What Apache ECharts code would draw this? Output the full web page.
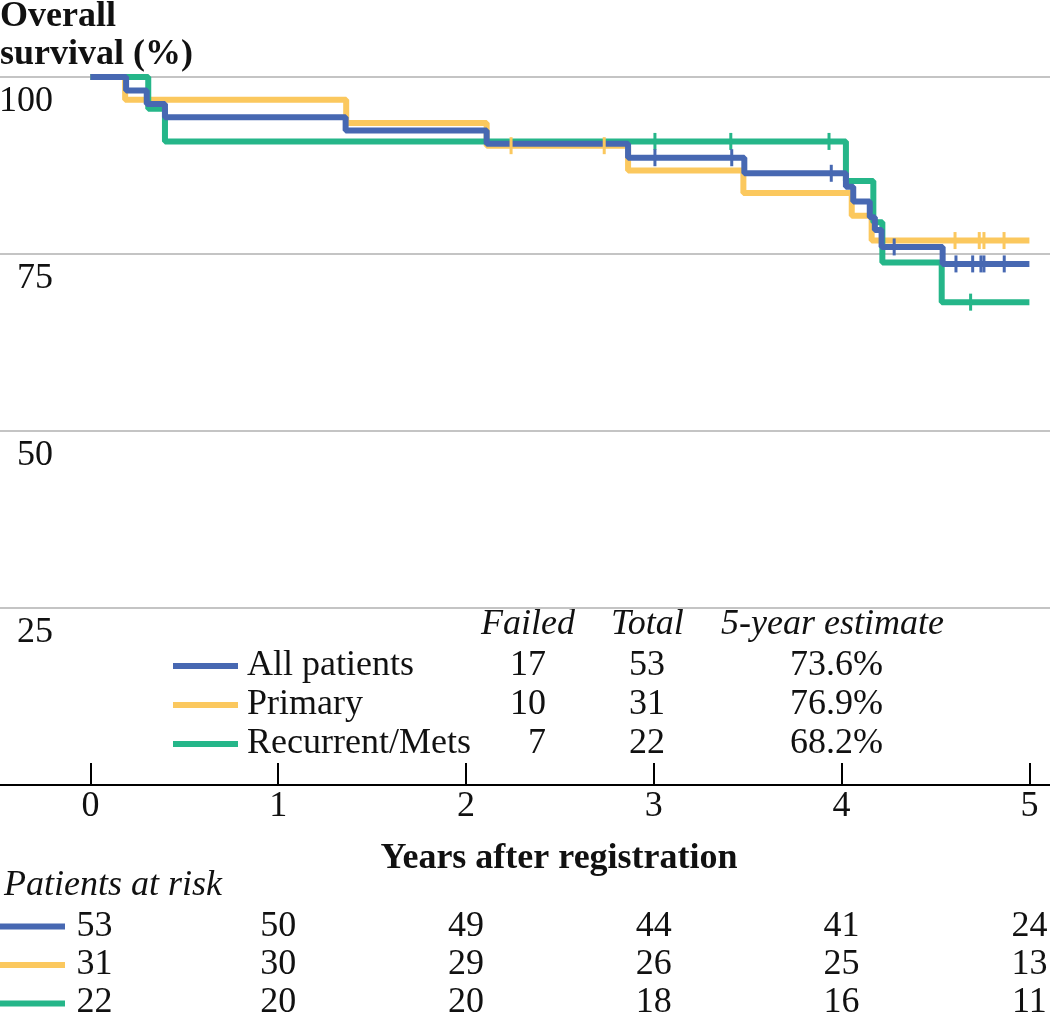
<!DOCTYPE html>
<html>
<head>
<meta charset="utf-8">
<script src="https://cdn.jsdelivr.net/npm/echarts@6/dist/echarts.min.js"></script>
<style>html,body{margin:0;padding:0;background:#fff;}#c{width:1050px;height:1017px;}</style>
</head>
<body>
<div id="c"></div>
<script>
// ---- data ----
const seriesNames = ['All patients', 'Primary', 'Recurrent/Mets'];
const colors = ['#4768b2', '#fbc85e', '#25b689'];

const allTimes = [0, 0.19, 0.30, 0.397, 1.359, 2.11, 2.863, 3.482, 4.023, 4.062, 4.15, 4.177, 4.213, 4.538, 5];
const allSurv  = [100, 98.1, 96.2, 94.3, 92.45, 90.57, 88.6, 86.4, 84.5, 82.4, 80.2, 78.4, 76.0, 73.6, 73.6];
const primTimes = [0, 0.185, 1.362, 2.11, 2.863, 3.477, 4.054, 4.16, 5];
const primSurv  = [100, 96.8, 93.5, 90.3, 86.8, 83.6, 80.4, 76.9, 76.9];
const recTimes = [0, 0.308, 0.397, 4.023, 4.169, 4.217, 4.533, 5];
const recSurv  = [100, 95.5, 90.9, 85.3, 79.5, 73.8, 68.2, 68.2];

const allCensT = [3.006, 3.415, 3.945, 4.28, 4.609, 4.698, 4.742, 4.758, 4.866];
const allCensS = [88.6, 88.6, 86.4, 76.0, 73.6, 73.6, 73.6, 73.6, 73.6];
const primCensT = [2.24, 2.736, 4.604, 4.733, 4.758, 4.865];
const primCensS = [90.3, 90.3, 76.9, 76.9, 76.9, 76.9];
const recCensT = [3.006, 3.41, 3.933, 4.687];
const recCensS = [90.9, 90.9, 90.9, 68.2];

const failed = [17, 10, 7];
const totals = [53, 31, 22];
const estimates = ['73.6%', '76.9%', '68.2%'];

const riskYears = [0, 1, 2, 3, 4, 5];
const riskAll = [53, 50, 49, 44, 41, 24];
const riskPrim = [31, 30, 29, 26, 25, 13];
const riskRec = [22, 20, 20, 18, 16, 11];

const xTicks = [0, 1, 2, 3, 4, 5];
const yTicks = [25, 50, 75, 100];

// ---- build ----
const zip = (a, b) => a.map((v, i) => [v, b[i]]);
const FONT = 'Liberation Serif';
const FS = 36;
const TXT = '#111111';
const XMIN = -0.4814, XMAX = 5.1097;

const curves = [zip(allTimes, allSurv), zip(primTimes, primSurv), zip(recTimes, recSurv)];
const cens = [zip(allCensT, allCensS), zip(primCensT, primCensS), zip(recCensT, recCensS)];
const risks = [riskAll, riskPrim, riskRec];

const series = [];
// draw order: Primary, Recurrent, All (blue on top)
[1, 2, 0].forEach(i => {
  series.push({
    name: seriesNames[i], type: 'line', step: 'end', data: curves[i],
    xAxisIndex: 0, yAxisIndex: 0, showSymbol: false, symbol: 'none',
    lineStyle: { color: colors[i], width: 6 }, itemStyle: { color: colors[i] },
    z: 3 + (i === 0 ? 2 : (i === 2 ? 1 : 0))
  });
});
[1, 2, 0].forEach(i => {
  series.push({
    name: seriesNames[i] + ' censored', type: 'scatter', data: cens[i],
    xAxisIndex: 0, yAxisIndex: 0, symbol: 'rect', symbolSize: [3, 17],
    itemStyle: { color: colors[i], opacity: 1 }, z: 8
  });
});
risks.forEach((arr, r) => {
  series.push({
    name: 'risk' + r, type: 'scatter', xAxisIndex: 1, yAxisIndex: 1,
    data: riskYears.map((y, k) => ({
      value: [y, r, arr[k]],
      label: k === 0 ? { offset: [4, 0] } : undefined
    })),
    symbolSize: 0, itemStyle: { color: TXT, opacity: 1 },
    label: {
      show: true, position: 'inside', formatter: p => p.value[2],
      fontFamily: FONT, fontSize: FS, color: TXT, textBorderWidth: 0, opacity: 1
    }
  });
});

const f = (style, size) => style + ' ' + size + 'px "Liberation Serif"';
const graphic = [
  { type: 'text', left: 0, top: -1, style: { text: 'Overall', font: f('bold', FS), fill: TXT } },
  { type: 'text', left: 0, top: 37, style: { text: 'survival (%)', font: f('bold', FS), fill: TXT } },
  { type: 'text', x: 559, y: 859, style: { text: 'Years after registration', font: f('bold', FS), fill: TXT, align: 'center', verticalAlign: 'middle' } },
  { type: 'text', x: 4, y: 886, style: { text: 'Patients at risk', font: f('italic', FS), fill: TXT, align: 'left', verticalAlign: 'middle' } },
  { type: 'text', x: 481, y: 625, style: { text: 'Failed', font: f('italic', FS), fill: TXT, align: 'left', verticalAlign: 'middle' } },
  { type: 'text', x: 611, y: 625, style: { text: 'Total', font: f('italic', FS), fill: TXT, align: 'left', verticalAlign: 'middle' } },
  { type: 'text', x: 721, y: 625, style: { text: '5-year estimate', font: f('italic', FS), fill: TXT, align: 'left', verticalAlign: 'middle' } }
];
const rowY = [665.5, 704.5, 743.5];
[0, 1, 2].forEach(i => {
  graphic.push({ type: 'text', x: 546, y: rowY[i], style: { text: String(failed[i]), font: f('', FS), fill: TXT, align: 'right', verticalAlign: 'middle' } });
  graphic.push({ type: 'text', x: 665, y: rowY[i], style: { text: String(totals[i]), font: f('', FS), fill: TXT, align: 'right', verticalAlign: 'middle' } });
  graphic.push({ type: 'text', x: 883, y: rowY[i], style: { text: estimates[i], font: f('', FS), fill: TXT, align: 'right', verticalAlign: 'middle' } });
});
const riskRowY = [926.5, 965, 1003.5];
[0, 1, 2].forEach(i => {
  graphic.push({ type: 'rect', shape: { x: 0, y: riskRowY[i] - 3, width: 65, height: 6 }, style: { fill: colors[i] } });
});

const chart = echarts.init(document.getElementById('c'), null, { renderer: 'canvas' });
chart.setOption({
  animation: false,
  backgroundColor: '#fff',
  grid: [
    { left: 0, width: 1050, top: 77, height: 708, outerBoundsMode: 'none', containLabel: false },
    { left: 0, width: 1050, top: 907.5, height: 114, outerBoundsMode: 'none', containLabel: false }
  ],
  xAxis: [
    {
      type: 'value', gridIndex: 0, min: XMIN, max: XMAX,
      splitLine: { show: false },
      axisLine: { show: true, onZero: false, lineStyle: { color: '#000', width: 2 } },
      axisTick: { show: true, inside: true, length: 22, customValues: xTicks, lineStyle: { color: '#000', width: 2 } },
      axisLabel: { customValues: xTicks, margin: 4, fontFamily: FONT, fontSize: FS, color: TXT }
    },
    { type: 'value', gridIndex: 1, min: XMIN, max: XMAX, show: false }
  ],
  yAxis: [
    {
      type: 'value', gridIndex: 0, min: 0, max: 100, interval: 25,
      axisLine: { show: false }, axisTick: { show: false },
      splitLine: { show: true, lineStyle: { color: '#c4c4c4', width: 2 } },
      axisLabel: {
        customValues: yTicks, inside: true, margin: 53, align: 'right', verticalAlign: 'top',
        padding: [7, 0, 0, 0], fontFamily: FONT, fontSize: FS, color: TXT
      }
    },
    { type: 'category', gridIndex: 1, data: ['0', '1', '2'], inverse: true, show: false }
  ],
  legend: {
    data: seriesNames, orient: 'vertical', left: 173, top: 648, itemGap: 3, padding: 0,
    itemWidth: 65, itemHeight: 6, icon: 'rect', selectedMode: false,
    textStyle: { fontFamily: FONT, fontSize: FS, color: TXT, padding: [0, 0, 0, 4] }
  },
  graphic: graphic,
  series: series
});
</script>
</body>
</html>
